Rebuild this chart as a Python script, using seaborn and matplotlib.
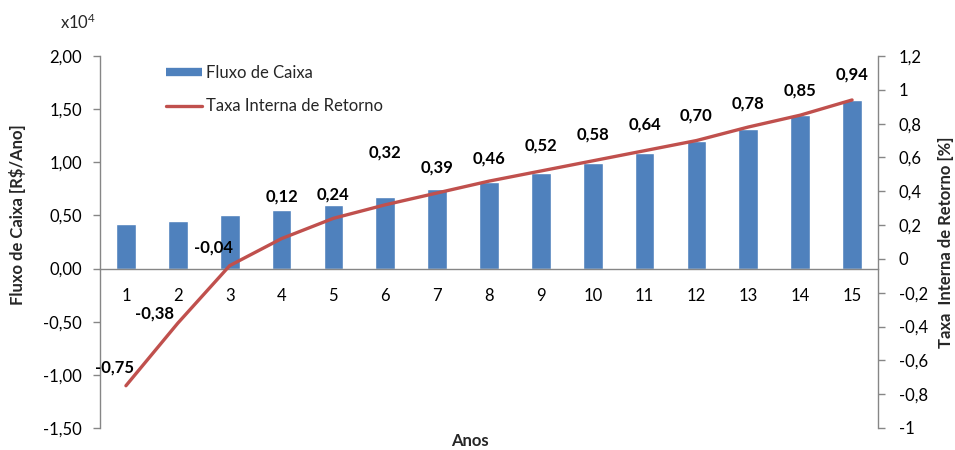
import numpy as np
import pandas as pd
import matplotlib
matplotlib.use("Agg")
import matplotlib.pyplot as plt
from matplotlib.lines import Line2D
from matplotlib.ticker import FixedLocator, FuncFormatter
import seaborn as sns

# ---- data ----
anos = list(range(1, 16))
fluxo_caixa = [0.415, 0.45, 0.50, 0.55, 0.60, 0.675, 0.745, 0.815, 0.895, 0.99,
               1.09, 1.20, 1.31, 1.445, 1.59]          # x10^4 R$/Ano
tir = [-0.75, -0.38, -0.04, 0.12, 0.24, 0.32, 0.39, 0.46, 0.52, 0.58,
       0.64, 0.70, 0.78, 0.85, 0.94]                   # %
tir_labels = [f"{v:.2f}".replace(".", ",") for v in tir]
left_ticks = [-1.5, -1.0, -0.5, 0.0, 0.5, 1.0, 1.5, 2.0]
right_ticks = [-1.0, -0.8, -0.6, -0.4, -0.2, 0.0, 0.2, 0.4, 0.6, 0.8, 1.0, 1.2]

# label offsets (pixels) relative to each line point
label_dx = [-11, -23, -16, 0, 0, 0, 0, 0, 0, 0, 0, 0, 0, 0, 0]
label_dy = [18, 10, 18, 42, 24, 52, 25, 23, 25, 26, 26, 25, 24, 25, 25]

df = pd.DataFrame({"Ano": anos, "Fluxo": fluxo_caixa, "TIR": tir})

sns.set_theme(style="white")
plt.rcParams["font.family"] = ["Lato", "DejaVu Sans"]
plt.rcParams["mathtext.default"] = "regular"

BLUE = "#4F81BD"
RED = "#C0504D"
GRAY = "#868686"
FS = 12

fig = plt.figure(figsize=(9.55, 4.5), dpi=100)
W, H = 955, 450
x0, x1, ytop, ybot = 100, 878, 56, 428
ax = fig.add_axes([x0 / W, 1 - ybot / H, (x1 - x0) / W, (ybot - ytop) / H])

sns.barplot(data=df, x="Ano", y="Fluxo", native_scale=True, color=BLUE,
            width=0.38, saturation=1, ax=ax, zorder=2)
ax.set_xlim(0.5, 15.5)
ax.set_ylim(-1.5, 2.0)
ax.set_xlabel("")
ax.set_ylabel("")

for s in ["top", "right"]:
    ax.spines[s].set_visible(False)
ax.spines["bottom"].set_position(("data", 0))
ax.spines["bottom"].set_color(GRAY)
ax.spines["left"].set_color(GRAY)
ax.spines["bottom"].set_linewidth(1.0)
ax.spines["left"].set_linewidth(1.0)

ax.xaxis.set_major_locator(FixedLocator(anos))
ax.xaxis.set_minor_locator(FixedLocator(np.arange(0.5, 16, 1.0)))
ax.set_xticklabels([str(a) for a in anos])
ax.tick_params(axis="x", which="major", length=0, pad=14, labelsize=FS, labelcolor="black")
ax.tick_params(axis="x", which="minor", length=5, width=1, color=GRAY, direction="out")

ax.yaxis.set_major_locator(FixedLocator(left_ticks))
ax.yaxis.set_major_formatter(FuncFormatter(lambda v, p: f"{v:.2f}".replace(".", ",")))
ax.tick_params(axis="y", which="major", left=True, length=5, width=1, color=GRAY,
               direction="out", pad=8, labelsize=FS, labelcolor="black")

# ---- twin axis: TIR line ----
ax2 = ax.twinx()
sns.lineplot(data=df, x="Ano", y="TIR", color=RED, linewidth=2.4, ax=ax2,
             solid_capstyle="round")
ax2.set_ylim(-1.0, 1.2)
ax2.set_xlim(0.5, 15.5)
ax2.set_xlabel("")
ax2.set_ylabel("")
for s in ["top", "left", "bottom"]:
    ax2.spines[s].set_visible(False)
ax2.spines["right"].set_color(GRAY)
ax2.spines["right"].set_linewidth(1.0)
ax2.yaxis.set_major_locator(FixedLocator(right_ticks))


def fmt_r(v, p):
    if abs(v) < 1e-9:
        return "0"
    return f"{v:g}".replace(".", ",")


ax2.yaxis.set_major_formatter(FuncFormatter(fmt_r))
ax2.tick_params(axis="y", which="major", right=True, length=5, width=1, color=GRAY,
                direction="out", pad=10, labelsize=FS, labelcolor="black")

for a, v, lab, dx, dy in zip(anos, tir, tir_labels, label_dx, label_dy):
    ax2.annotate(lab, (a, v), xytext=(dx, dy), textcoords="offset pixels",
                 ha="center", va="center", fontsize=FS, fontweight="bold",
                 color="black")

# ---- legend ----
handles = [
    Line2D([0], [0], color=BLUE, linewidth=6, solid_capstyle="butt"),
    Line2D([0], [0], color=RED, linewidth=2.4, solid_capstyle="round"),
]
fig.legend(handles, ["Fluxo de Caixa", "Taxa Interna de Retorno"],
           loc="upper left", bbox_to_anchor=(166 / W, 1 - 65 / H),
           frameon=False, fontsize=FS, handlelength=2.15, handletextpad=0.25,
           labelspacing=1.05, borderpad=0, borderaxespad=0)

# ---- texts ----
fig.text(60 / W, 1 - 22 / H, "x10$^4$", fontsize=FS, ha="left", va="center")
fig.text(18 / W, 1 - 215 / H, "Fluxo de Caixa [R$/Ano]", rotation=90,
         fontsize=FS, fontweight="bold", ha="center", va="center")
fig.text(946 / W, 1 - 242 / H, "Taxa  Interna de Retorno [%]", rotation=90,
         fontsize=FS, fontweight="bold", ha="center", va="center")
fig.text(470 / W, 1 - 441 / H, "Anos", fontsize=FS, fontweight="bold",
         ha="center", va="center")

fig.savefig("out.png", dpi=100, facecolor="white")
